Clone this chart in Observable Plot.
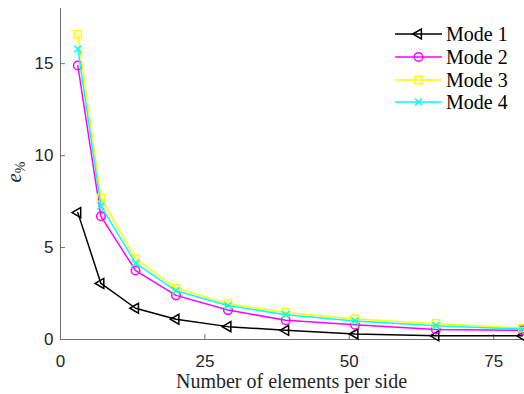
<!DOCTYPE html>
<html>
<head>
<meta charset="utf-8">
<script src="https://cdn.jsdelivr.net/npm/d3@7"></script>
<script src="https://cdn.jsdelivr.net/npm/@observablehq/plot@0.6"></script>
<style>
  html, body { margin: 0; padding: 0; background: white; }
  #wrap { position: relative; width: 524px; height: 394px; }
  #legend { position: absolute; left: 395px; top: 23px; font-family: "Liberation Serif", serif; font-size: 20px; color: #000; }
  .row { display: flex; align-items: center; height: 22.7px; }
  .row span { margin-left: 4px; line-height: 1; }
</style>
</head>
<body>
<div id="wrap"><div id="legend"></div></div>
<script>
const elements = [3, 7, 13, 20, 29, 39, 51, 65, 80];
const mode1 = [6.9, 3.05, 1.7, 1.1, 0.7, 0.5, 0.3, 0.2, 0.2];
const mode2 = [14.9, 6.7, 3.75, 2.4, 1.6, 1.05, 0.8, 0.55, 0.5];
const mode3 = [16.6, 7.7, 4.4, 2.8, 1.95, 1.47, 1.12, 0.87, 0.62];
const mode4 = [15.8, 7.25, 4.15, 2.65, 1.85, 1.35, 1.0, 0.75, 0.56];
const seriesNames = ["Mode 1", "Mode 2", "Mode 3", "Mode 4"];
const seriesValues = [mode1, mode2, mode3, mode4];
const colors = ["#000000", "#ff00ff", "#ffff00", "#00ffff"];
const symbols = ["triangle", "circle", "square", "times"];
const radii = [3.7, 4.3, 4.1, 3.3];
const rotations = [-90, 0, 0, 0];
const xTicks = [0, 25, 50, 75];
const yTicks = [0, 5, 10, 15];

const data = [];
seriesNames.forEach((name, i) => {
  seriesValues[i].forEach((v, j) => data.push({series: name, x: elements[j], y: v}));
});

const marks = [
  Plot.ruleY([0], {stroke: "#707070", strokeWidth: 1}),
  Plot.ruleX([0], {stroke: "#707070", strokeWidth: 1}),
  Plot.axisX({ticks: xTicks, tickSize: -5, tickPadding: 20, stroke: "#707070", fill: "#262626", label: null}),
  Plot.axisY({ticks: yTicks, tickSize: -5, tickPadding: 12, stroke: "#707070", fill: "#262626", label: null}),
];
seriesNames.forEach((name, i) => {
  const d = data.filter(r => r.series === name);
  marks.push(Plot.line(d, {x: "x", y: "y", stroke: colors[i], strokeWidth: 1.5}));
  marks.push(Plot.dot(d, {x: "x", y: "y", stroke: colors[i], fill: "none", strokeWidth: 1.5, symbol: symbols[i], r: radii[i], rotate: rotations[i]}));
});
marks.push(Plot.text(["Number of elements per side"], {frameAnchor: "bottom", dy: 48, fontFamily: "Liberation Serif", fontSize: 20, fill: "#262626"}));

const chart = Plot.plot({
  width: 524, height: 394,
  marginLeft: 60, marginRight: 2, marginTop: 8, marginBottom: 55,
  x: {domain: [0, 80]},
  y: {domain: [0, 18]},
  style: {fontFamily: "Liberation Sans", fontSize: "17px", background: "white", overflow: "visible"},
  marks
});
document.getElementById("wrap").prepend(chart);

// y label with subscript
const svg = d3.select(chart);
const yl = svg.append("text")
  .attr("transform", "translate(21,172) rotate(-90)")
  .attr("text-anchor", "middle")
  .attr("font-family", "Liberation Serif")
  .attr("fill", "#262626");
yl.append("tspan").attr("font-size", 21).attr("font-style", "italic").text("e");
yl.append("tspan").attr("font-size", 14).attr("dy", 4).text("%");

// legend
const legend = d3.select("#legend");
seriesNames.forEach((name, i) => {
  const row = legend.append("div").attr("class", "row");
  const s = row.append("svg").attr("width", 47).attr("height", 20);
  s.append("line").attr("x1", 0).attr("x2", 47).attr("y1", 10).attr("y2", 10)
    .attr("stroke", colors[i]).attr("stroke-width", 1.5);
  const symType = {triangle: d3.symbolTriangle, circle: d3.symbolCircle, square: d3.symbolSquare, times: d3.symbolTimes}[symbols[i]];
  s.append("path").attr("d", d3.symbol(symType, radii[i] * radii[i] * Math.PI)())
    .attr("transform", `translate(23.5,10) rotate(${rotations[i]})`)
    .attr("fill", "none").attr("stroke", colors[i]).attr("stroke-width", 1.5);
  row.append("span").text(name);
});
</script>
</body>
</html>
